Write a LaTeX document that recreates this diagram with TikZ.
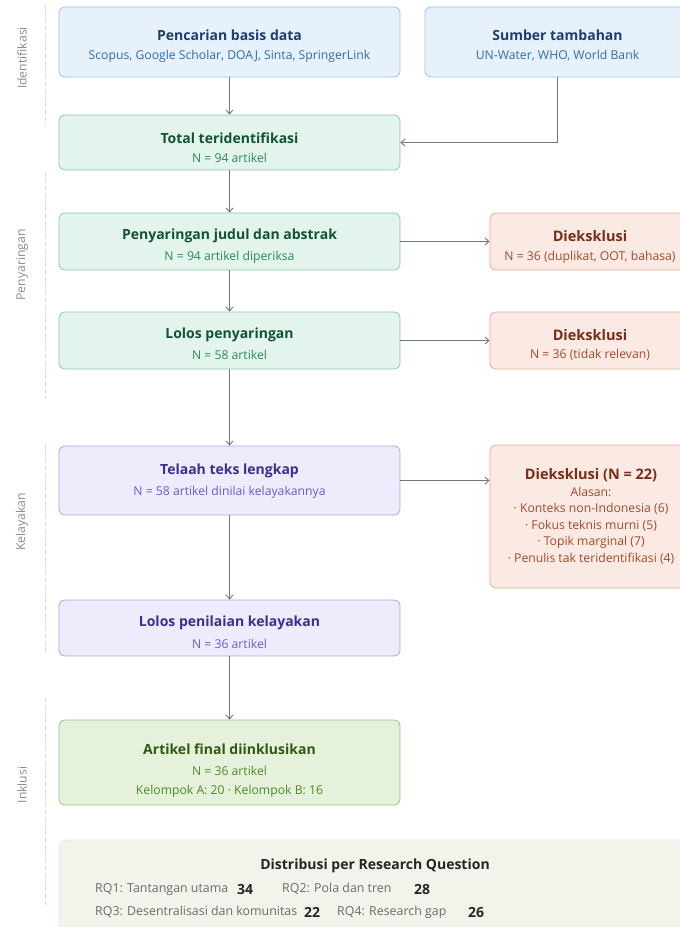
\documentclass[tikz,border=0pt]{standalone}
\usepackage{fontspec}
\setmainfont{Open Sans}
\usepackage{xcolor}
\usepackage{tikz}
\usetikzlibrary{arrows.meta,positioning}
\definecolor{idfill}{HTML}{E7F1FC}
\definecolor{idline}{HTML}{9EC2EA}
\definecolor{idtitle}{HTML}{1C3D6E}
\definecolor{idsub}{HTML}{2D6DB3}
\definecolor{scfill}{HTML}{E2F4EC}
\definecolor{scline}{HTML}{8DCCB0}
\definecolor{sctitle}{HTML}{145238}
\definecolor{scsub}{HTML}{2B8A5C}
\definecolor{exfill}{HTML}{FBEAE3}
\definecolor{exline}{HTML}{E2AC95}
\definecolor{extitle}{HTML}{7B2D17}
\definecolor{exsub}{HTML}{A34A2C}
\definecolor{elfill}{HTML}{EDEBFC}
\definecolor{elline}{HTML}{ADA6EE}
\definecolor{eltitle}{HTML}{3C2F8F}
\definecolor{elsub}{HTML}{6A5BD8}
\definecolor{infill}{HTML}{E5F1DA}
\definecolor{inline}{HTML}{9CC480}
\definecolor{intitle}{HTML}{2F5912}
\definecolor{insub}{HTML}{4F8A27}
\definecolor{sumfill}{HTML}{F3F2EB}
\definecolor{sumline}{HTML}{E8E6DE}
\definecolor{arrowgray}{HTML}{767676}
\definecolor{phasegray}{HTML}{8A8A8A}
\definecolor{guidegray}{HTML}{D8D8D8}
\tikzset{
  box/.style={rounded corners=6pt, line width=0.8pt, inner sep=0pt},
  idbox/.style={box, fill=idfill, draw=idline},
  scbox/.style={box, fill=scfill, draw=scline},
  exbox/.style={box, fill=exfill, draw=exline},
  elbox/.style={box, fill=elfill, draw=elline},
  inbox/.style={box, fill=infill, draw=inline},
  mainw/.style={minimum width=341pt},
  exw/.style={minimum width=200pt},
  ttl/.style={inner sep=0pt, font=\fontsize{14}{16}\selectfont\bfseries},
  exttl/.style={inner sep=0pt, text=extitle, font=\fontsize{14.5}{17}\selectfont\bfseries},
  txt/.style={inner sep=0pt, font=\fontsize{12.2}{14}\selectfont},
  arr/.style={draw=arrowgray, line width=0.9pt, -{Straight Barb[length=4pt,width=7pt]}},
  guide/.style={draw=guidegray, dashed, dash pattern=on 4pt off 3pt, line width=0.7pt},
  phase/.style={rotate=90, text=phasegray, font=\fontsize{12.2}{14}\selectfont, inner sep=0pt},
  rqlab/.style={anchor=west, inner sep=0pt, text=black!58, font=\fontsize{12.4}{14}\selectfont},
  rqnum/.style={anchor=west, inner sep=0pt, text=black!85, font=\fontsize{14}{16}\selectfont\bfseries}
}
\begin{document}
\begin{tikzpicture}[x=1pt, y=-1pt, line cap=round, line join=round]
  \useasboundingbox (0,0) rectangle (680,927);
  \clip (0,0) rectangle (680,927);

  % phase guides
  \draw[guide] (45,5) -- (45,125);
  \draw[guide] (45,172) -- (45,398);
  \draw[guide] (45,445) -- (45,653);
  \draw[guide] (45,698) -- (45,907);
  \node[phase] (phId) at (22,58) {Identifikasi};
  \node[phase] (phSc) at (22,265) {Penyaringan};
  \node[phase] (phEl) at (22,522) {Kelayakan};
  \node[phase] (phIn) at (22,785) {Inklusi};

  % identification
  \node[idbox, mainw, minimum height=70pt] (search) at (229.5,42) {};
  \node[ttl, text=idtitle] (searchT) at (229.5,35) {Pencarian basis data};
  \node[txt, text=idsub] (searchS) at (229.5,56) {Scopus, Google Scholar, DOAJ, Sinta, SpringerLink};
  \node[idbox, minimum width=265pt, minimum height=70pt] (extra) at (557.5,42) {};
  \node[ttl, text=idtitle] (extraT) at (557.5,35) {Sumber tambahan};
  \node[txt, text=idsub] (extraS) at (557.5,56) {UN-Water, WHO, World Bank};
  \node[scbox, mainw, minimum height=55pt] (total) at (229.5,142.5) {};
  \node[ttl, text=sctitle] (totalT) at (229.5,138) {Total teridentifikasi};
  \node[txt, text=scsub] (totalS) at (229.5,158) {N = 94 artikel};

  % screening
  \node[scbox, mainw, minimum height=57pt] (screen) at (229.5,241.5) {};
  \node[ttl, text=sctitle] (screenT) at (229.5,236) {Penyaringan judul dan abstrak};
  \node[txt, text=scsub] (screenS) at (229.5,257) {N = 94 artikel diperiksa};
  \node[exbox, exw, minimum height=57pt] (excl1) at (590,241.5) {};
  \node[exttl] (excl1T) at (590,236) {Dieksklusi};
  \node[txt, text=exsub] (excl1S) at (590,257) {N = 36 (duplikat, OOT, bahasa)};
  \node[scbox, mainw, minimum height=57pt] (passed) at (229.5,340.5) {};
  \node[ttl, text=sctitle] (passedT) at (229.5,335) {Lolos penyaringan};
  \node[txt, text=scsub] (passedS) at (229.5,355) {N = 58 artikel};
  \node[exbox, exw, minimum height=57pt] (excl2) at (590,340.5) {};
  \node[exttl] (excl2T) at (590,335) {Dieksklusi};
  \node[txt, text=exsub] (excl2S) at (590,355) {N = 36 (tidak relevan)};

  % eligibility
  \node[elbox, mainw, minimum height=69pt] (fulltext) at (229.5,480.5) {};
  \node[ttl, text=eltitle] (fulltextT) at (229.5,471) {Telaah teks lengkap};
  \node[txt, text=elsub] (fulltextS) at (229.5,492) {N = 58 artikel dinilai kelayakannya};
  \node[exbox, exw, minimum height=143pt] (excl3) at (590,516.5) {};
  \node[exttl] (excl3T) at (591,475) {Dieksklusi (N = 22)};
  \node[txt, text=exsub] (excl3A) at (591,492) {Alasan:};
  \node[txt, text=exsub] (excl3B) at (591,508.5) {{\textperiodcentered} Konteks non-Indonesia (6)};
  \node[txt, text=exsub] (excl3C) at (591,525.5) {{\textperiodcentered} Fokus teknis murni (5)};
  \node[txt, text=exsub] (excl3D) at (591,542) {{\textperiodcentered} Topik marginal (7)};
  \node[txt, text=exsub] (excl3E) at (591,559) {{\textperiodcentered} Penulis tak teridentifikasi (4)};
  \node[elbox, mainw, minimum height=56pt] (eligible) at (229.5,628) {};
  \node[ttl, text=eltitle] (eligibleT) at (229.5,623) {Lolos penilaian kelayakan};
  \node[txt, text=elsub] (eligibleS) at (229.5,644) {N = 36 artikel};

  % inclusion
  \node[inbox, mainw, minimum height=85pt] (final) at (229.5,762.5) {};
  \node[ttl, text=intitle] (finalT) at (229.5,749) {Artikel final diinklusikan};
  \node[txt, text=insub] (finalS) at (229.5,771) {N = 36 artikel};
  \node[txt, text=insub] (finalG) at (229.5,791) {Kelompok A: 20 {\textperiodcentered} Kelompok B: 16};

  % arrows
  \draw[arr] (search) -- (total);
  \draw[arr] (extra.south) |- (total.east);
  \draw[arr] (total) -- (screen);
  \draw[arr] (screen) -- (excl1);
  \draw[arr] (screen) -- (passed);
  \draw[arr] (passed) -- (excl2);
  \draw[arr] (passed) -- (fulltext);
  \draw[arr] (fulltext.east) -- (fulltext.east -| excl3.west);
  \draw[arr] (fulltext) -- (eligible);
  \draw[arr] (eligible) -- (final);

  % summary per RQ
  \node[rounded corners=8pt, fill=sumfill, draw=sumline, line width=0.8pt,
    minimum width=632pt, minimum height=100pt, inner sep=0pt] (summary) at (375,890) {};
  \node[ttl, text=black!85] (sumT) at (375,866) {Distribusi per Research Question};
  \node[rqlab] (rq1) at (95,889) {RQ1: Tantangan utama};
  \node[rqnum] (n1) at (237,889) {34};
  \node[rqlab] (rq2) at (282,889) {RQ2: Pola dan tren};
  \node[rqnum] (n2) at (414,889) {28};
  \node[rqlab] (rq3) at (95,912) {RQ3: Desentralisasi dan komunitas};
  \node[rqnum] (n3) at (304,912) {22};
  \node[rqlab] (rq4) at (337,912) {RQ4: Research gap};
  \node[rqnum] (n4) at (468,912) {26};
\end{tikzpicture}
\end{document}
